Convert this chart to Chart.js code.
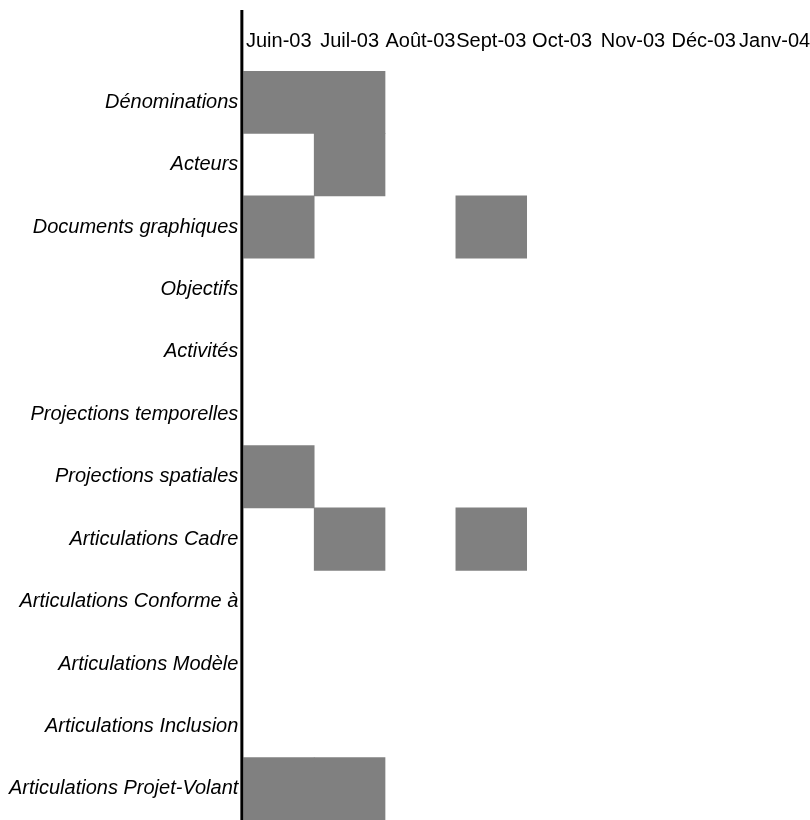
<!DOCTYPE html>
<html>
<head>
<meta charset="utf-8">
<script src="https://cdn.jsdelivr.net/npm/chart.js@4/dist/chart.umd.min.js"></script>
<style>
	body { margin: 0; background: #fff; }
	#wrap { width: 810px; height: 820px; }
</style>
</head>
<body>
<div id="wrap"><canvas id="gantt"></canvas></div>
<script>
var months = ['Juin-03', 'Juil-03', 'Août-03', 'Sept-03', 'Oct-03', 'Nov-03', 'Déc-03', 'Janv-04'];

var tasks = [
	'Dénominations',
	'Acteurs',
	'Documents graphiques',
	'Objectifs',
	'Activités',
	'Projections temporelles',
	'Projections spatiales',
	'Articulations Cadre',
	'Articulations Conforme à',
	'Articulations Modèle',
	'Articulations Inclusion',
	'Articulations Projet-Volant'
];

// 1 = task active during that month (one array per month, one entry per task)
var juin03 = [1, 0, 1, 0, 0, 0, 1, 0, 0, 0, 0, 1];
var juil03 = [1, 1, 0, 0, 0, 0, 0, 1, 0, 0, 0, 1];
var aout03 = [0, 0, 0, 0, 0, 0, 0, 0, 0, 0, 0, 0];
var sept03 = [0, 0, 1, 0, 0, 0, 0, 1, 0, 0, 0, 0];
var oct03 = [0, 0, 0, 0, 0, 0, 0, 0, 0, 0, 0, 0];
var nov03 = [0, 0, 0, 0, 0, 0, 0, 0, 0, 0, 0, 0];
var dec03 = [0, 0, 0, 0, 0, 0, 0, 0, 0, 0, 0, 0];
var janv04 = [0, 0, 0, 0, 0, 0, 0, 0, 0, 0, 0, 0];

var activity = [juin03, juil03, aout03, sept03, oct03, nov03, dec03, janv04];

var datasets = activity.map(function (flags, m) {
	return {
		label: months[m],
		data: flags.map(function (f) { return f ? [m, m + 1] : null; }),
		backgroundColor: '#808080',
		borderWidth: 0,
		barPercentage: 1,
		categoryPercentage: 1,
		grouped: false
	};
});

// thick black line on the left, running up through the header
var axisLine = {
	id: 'axisLine',
	afterDraw: function (chart) {
		var ctx = chart.ctx;
		var x = chart.chartArea.left - 1.5;
		ctx.save();
		ctx.strokeStyle = '#000';
		ctx.lineWidth = 3;
		ctx.beginPath();
		ctx.moveTo(x, 10);
		ctx.lineTo(x, chart.chartArea.bottom);
		ctx.stroke();
		ctx.restore();
	}
};

// no extra room for half labels at the ends of the axes
function noEndPadding(scale) {
	scale.paddingTop = 0;
	scale.paddingBottom = 0;
	scale.paddingLeft = 0;
	scale.paddingRight = 0;
}

var font = 'Liberation Sans, Arial, sans-serif';

new Chart(document.getElementById('gantt'), {
	type: 'bar',
	data: {
		labels: tasks,
		datasets: datasets
	},
	options: {
		indexAxis: 'y',
		responsive: true,
		maintainAspectRatio: false,
		animation: false,
		layout: { padding: { top: 11, left: 4, right: 0, bottom: 0 } },
		plugins: {
			legend: { display: false },
			tooltip: { enabled: false }
		},
		scales: {
			x: {
				type: 'linear',
				position: 'top',
				min: 0,
				max: months.length,
				grid: { display: false, drawTicks: false },
				border: { display: false },
				afterBuildTicks: function (scale) {
					scale.ticks = months.map(function (m, i) { return { value: i + 0.5 }; });
				},
				afterFit: noEndPadding,
				ticks: {
					autoSkip: false,
					maxRotation: 0,
					padding: 18,
					color: '#000',
					font: { family: font, size: 20 },
					callback: function (value, index) { return months[index]; }
				}
			},
			y: {
				grid: { display: false, drawTicks: false },
				border: { display: false },
				afterFit: noEndPadding,
				ticks: {
					padding: 5,
					color: '#000',
					font: { family: font, size: 20, style: 'italic' }
				}
			}
		}
	},
	plugins: [axisLine]
});
</script>
</body>
</html>
